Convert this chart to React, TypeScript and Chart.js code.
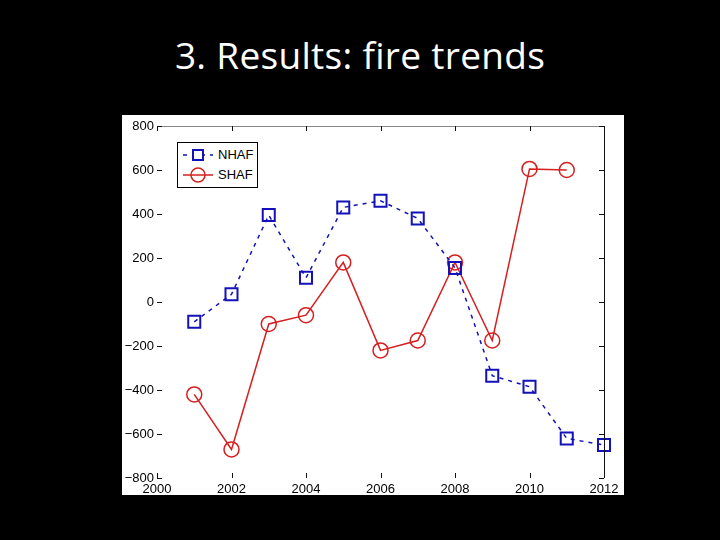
import { useRef, useEffect } from 'react'
import { Chart, registerables } from 'chart.js'

Chart.register(...registerables)

const TITLE = '3. Results: fire trends'
const YEARS = [2001, 2002, 2003, 2004, 2005, 2006, 2007, 2008, 2009, 2010, 2011, 2012]
const NHAF = [-90, 35, 395, 110, 430, 460, 380, 155, -335, -385, -620, -650]
const SHAF = [-420, -670, -100, -60, 180, -220, -175, 180, -175, 605, 600]
const X_TICKS = [2000, 2002, 2004, 2006, 2008, 2010, 2012]
const Y_TICKS = [-800, -600, -400, -200, 0, 200, 400, 600, 800]

const BLUE = '#1212b8'
const RED = '#d61f1f'
const FONT = '"Liberation Sans", Arial, sans-serif'

const SERIES = [
  { name: 'NHAF', color: BLUE, values: NHAF, dash: [4, 5], marker: 'rect' as const },
  { name: 'SHAF', color: RED, values: SHAF, dash: [] as number[], marker: 'circle' as const },
]

// matlab-ish inward ticks + top/right frame
const frame = {
  id: 'frame',
  afterDraw(chart: Chart) {
    const { ctx, chartArea: a, scales } = chart
    ctx.save()
    ctx.lineWidth = 1
    ctx.strokeStyle = '#888'
    ctx.beginPath(); ctx.moveTo(a.left, a.top + 0.5); ctx.lineTo(a.right, a.top + 0.5); ctx.stroke()
    ctx.strokeStyle = '#111'
    ctx.beginPath(); ctx.moveTo(a.right + 0.5, a.top); ctx.lineTo(a.right + 0.5, a.bottom); ctx.stroke()
    const t = 5
    X_TICKS.forEach(v => {
      const x = Math.round(scales.x.getPixelForValue(v)) + 0.5
      ctx.beginPath(); ctx.moveTo(x, a.top); ctx.lineTo(x, a.top + t); ctx.stroke()
      ctx.beginPath(); ctx.moveTo(x, a.bottom); ctx.lineTo(x, a.bottom - t); ctx.stroke()
    })
    Y_TICKS.forEach(v => {
      const y = Math.round(scales.y.getPixelForValue(v)) + 0.5
      ctx.beginPath(); ctx.moveTo(a.left, y); ctx.lineTo(a.left + t, y); ctx.stroke()
      ctx.beginPath(); ctx.moveTo(a.right, y); ctx.lineTo(a.right - t, y); ctx.stroke()
    })
    ctx.restore()
  }
}

function LegendSample({ color, dash, marker }: { color: string; dash: number[]; marker: 'rect' | 'circle' }) {
  return (
    <svg width={32} height={16} style={{ display: 'block' }}>
      <line x1={1} y1={8} x2={31} y2={8} stroke={color} strokeWidth={1.5} strokeDasharray={dash.join(' ')} />
      {marker === 'rect'
        ? <rect x={11} y={3} width={10} height={10} fill="white" stroke={color} strokeWidth={2} />
        : <circle cx={16} cy={8} r={7} fill="none" stroke={color} strokeWidth={1.5} />}
    </svg>
  )
}

export default function App() {
  const canvasRef = useRef<HTMLCanvasElement>(null)
  const chartRef = useRef<Chart | null>(null)

  useEffect(() => {
    if (!canvasRef.current) return
    if (chartRef.current) chartRef.current.destroy()

    chartRef.current = new Chart(canvasRef.current, {
      type: 'line',
      data: {
        datasets: SERIES.map(s => ({
          label: s.name,
          data: s.values.map((v, i) => ({ x: YEARS[i], y: v })),
          borderColor: s.color,
          borderWidth: 1.5,
          borderDash: s.dash,
          backgroundColor: 'transparent',
          fill: false,
          clip: false,
          tension: 0,
          pointStyle: s.marker,
          pointRadius: s.marker === 'rect' ? 8.5 : 7.5,
          pointBorderWidth: s.marker === 'rect' ? 2 : 1.5,
          pointBorderColor: s.color,
          pointBackgroundColor: 'transparent',
        }))
      },
      options: {
        animation: false,
        responsive: false,
        maintainAspectRatio: false,
        layout: { padding: { top: 11, right: 20, left: 0, bottom: 0 } },
        plugins: { legend: { display: false }, tooltip: { enabled: false }, title: { display: false } },
        scales: {
          x: {
            type: 'linear', min: 2000, max: 2012,
            afterBuildTicks: s => { s.ticks = X_TICKS.map(v => ({ value: v })) },
            afterFit: s => { s.height = 17 },
            grid: { display: false, drawTicks: false },
            border: { display: false },
            ticks: { color: '#000', font: { family: FONT, size: 13 }, padding: 4, maxRotation: 0, callback: v => String(v) },
          },
          y: {
            type: 'linear', min: -800, max: 800,
            afterBuildTicks: s => { s.ticks = Y_TICKS.map(v => ({ value: v })) },
            afterFit: s => { s.width = 35 },
            grid: { display: false, drawTicks: false },
            border: { display: false },
            ticks: { color: '#000', font: { family: FONT, size: 13 }, padding: 3, callback: v => (Number(v) < 0 ? '\u2212' + Math.abs(Number(v)) : String(v)) },
          },
        },
      },
      plugins: [frame],
    })

    return () => { chartRef.current?.destroy() }
  }, [])

  return (
    <div style={{ position: 'fixed', inset: 0, width: 720, height: 540, background: '#000', overflow: 'hidden' }}>
      <div style={{ position: 'absolute', left: 0, width: 720, top: 31, textAlign: 'center', color: '#fff', fontFamily: '"Open Sans", Lato, sans-serif', fontSize: 37, lineHeight: '48px', letterSpacing: 0.3 }}>
        {TITLE}
      </div>
      <div style={{ position: 'absolute', left: 122, top: 115, width: 502, height: 380, background: '#fff', overflow: 'hidden' }}>
        <canvas ref={canvasRef} width={502} height={380} style={{ display: 'block', width: 502, height: 380 }} />
        <div style={{ position: 'absolute', left: 55, top: 27, width: 79, height: 44, border: '1px solid #000', background: '#fff', fontFamily: FONT, fontSize: 13, color: '#000' }}>
          {SERIES.map((s, i) => (
            <div key={s.name} style={{ position: 'absolute', left: 4, top: 4 + i * 20, display: 'flex', alignItems: 'center', gap: 4, lineHeight: '16px' }}>
              <LegendSample color={s.color} dash={s.dash} marker={s.marker} />
              <span>{s.name}</span>
            </div>
          ))}
        </div>
      </div>
    </div>
  )
}
